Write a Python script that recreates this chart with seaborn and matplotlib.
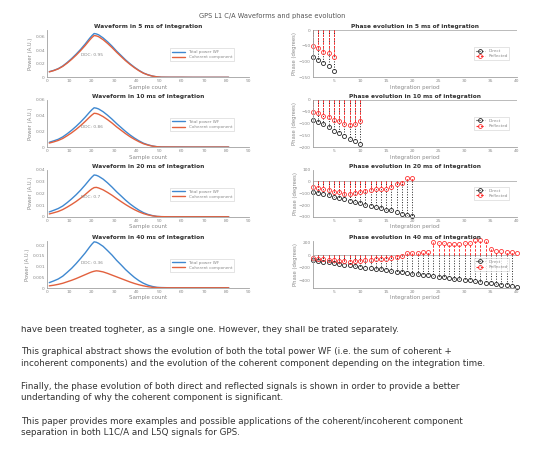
import numpy as np
import pandas as pd
import matplotlib
matplotlib.use("Agg")
import matplotlib.pyplot as plt
import seaborn as sns
from matplotlib.lines import Line2D
from matplotlib.ticker import FuncFormatter

# waveform sample positions (shared by all waveforms)
sample_x = [1, 3, 5, 7, 9, 11, 13, 15, 17, 19, 20, 21, 22, 23, 25, 27, 29, 31, 33, 35,
            37, 39, 41, 43, 45, 47, 49, 51, 55, 60, 65, 70, 75, 81]

total_5 = [0.0085, 0.0104, 0.013, 0.0169, 0.0221, 0.028, 0.0345, 0.0416, 0.0494, 0.0579,
           0.0618, 0.065, 0.0644, 0.0631, 0.0585, 0.0527, 0.0462, 0.039, 0.0325, 0.026,
           0.0202, 0.015, 0.0104, 0.0065, 0.0039, 0.002, 0.0008, 0.0003, 0.0002, 0.0002,
           0.0001, 0.0001, 0.0001, 0.0001]
coh_5 = [0.0082, 0.0101, 0.0126, 0.0163, 0.0212, 0.0268, 0.033, 0.0398, 0.0472, 0.0553,
         0.059, 0.062, 0.0615, 0.0603, 0.0559, 0.0503, 0.0441, 0.0373, 0.031, 0.0248,
         0.0193, 0.0143, 0.0099, 0.0062, 0.0037, 0.0019, 0.0008, 0.0003, 0.0002, 0.0002,
         0.0001, 0.0001, 0.0001, 0.0001]

total_10 = [0.0062, 0.008, 0.010, 0.013, 0.017, 0.0215, 0.0265, 0.032, 0.038, 0.0445,
            0.0475, 0.050, 0.0495, 0.0485, 0.045, 0.0405, 0.0355, 0.030, 0.025, 0.020,
            0.0155, 0.0115, 0.008, 0.005, 0.003, 0.0015, 0.0006, 0.0003, 0.0002, 0.0002,
            0.0001, 0.0001, 0.0001, 0.0001]
coh_10 = [0.0052, 0.0067, 0.0085, 0.011, 0.0145, 0.0183, 0.0226, 0.0274, 0.0326, 0.0382,
          0.0408, 0.043, 0.0427, 0.0418, 0.0388, 0.0349, 0.0306, 0.0258, 0.0215, 0.0172,
          0.0133, 0.0099, 0.0069, 0.0043, 0.0026, 0.0013, 0.0005, 0.0002, 0.0002, 0.0001,
          0.0001, 0.0001, 0.0001, 0.0001]

total_20 = [0.0042, 0.0056, 0.0071, 0.0092, 0.0121, 0.0153, 0.0188, 0.0227, 0.027, 0.0316,
            0.0337, 0.0355, 0.0352, 0.0344, 0.032, 0.0288, 0.0252, 0.0213, 0.0178, 0.0142,
            0.011, 0.0082, 0.0057, 0.0036, 0.0021, 0.0011, 0.0004, 0.0002, 0.0001, 0.0001,
            0.0001, 0.0001, 0.0001, 0.0001]
coh_20 = [0.0025, 0.0035, 0.0046, 0.0062, 0.0083, 0.0106, 0.0131, 0.0159, 0.0189, 0.0222,
          0.0237, 0.0248, 0.025, 0.0245, 0.0229, 0.0207, 0.0183, 0.0156, 0.013, 0.0105,
          0.0082, 0.0061, 0.0043, 0.0028, 0.0017, 0.0009, 0.0004, 0.0002, 0.0001, 0.0001,
          0.0001, 0.0001, 0.0001, 0.0001]

total_40 = [0.0025, 0.0033, 0.0042, 0.0055, 0.0073, 0.0092, 0.0114, 0.0138, 0.0163, 0.0191,
            0.0204, 0.0215, 0.0213, 0.0208, 0.0194, 0.0174, 0.0153, 0.0129, 0.0108, 0.0086,
            0.0067, 0.0049, 0.0034, 0.0022, 0.0013, 0.0007, 0.0003, 0.0002, 0.0001, 0.0001,
            0.0001, 0.0001, 0.0001, 0.0001]
coh_40 = [0.001, 0.0013, 0.0017, 0.0022, 0.0029, 0.0036, 0.0044, 0.0053, 0.0062, 0.0071,
          0.0075, 0.0078, 0.008, 0.0079, 0.0075, 0.0068, 0.006, 0.0052, 0.0044, 0.0036,
          0.0028, 0.0021, 0.0015, 0.001, 0.0006, 0.0003, 0.0002, 0.0001, 0.0001, 0.0001,
          0.0001, 0.0001, 0.0001, 0.0001]

ddc_values = ["0.95", "0.86", "0.7", "0.36"]
integration_ms = [5, 10, 20, 40]

# phase per integration period (degrees), 40 periods
phase_direct = [-85, -95, -103, -115, -130, -140, -152, -165, -172, -185,
                -198, -205, -215, -225, -240, -245, -260, -275, -283, -295,
                -300, -310, -318, -325, -340, -350, -362, -375, -385, -392,
                -400, -410, -420, -435, -448, -460, -470, -480, -490, -510]
phase_reflected = [-50, -57, -68, -72, -85, -90, -102, -105, -100, -88,
                   -78, -75, -68, -68, -60, -48, -25, -15, 30, 30,
                   38, 50, 45, 200, 190, 185, 180, 175, 175, 185,
                   190, 235, 230, 215, 100, 65, 65, 55, 40, 35]

body_lines = [
    "have been treated togheter, as a single one. However, they shall be trated separately.",
    "",
    "This graphical abstract shows the evolution of both the total power WF (i.e. the sum of coherent +",
    "incoherent components) and the evolution of the coherent component depending on the integration time.",
    "",
    "Finally, the phase evolution of both direct and reflected signals is shown in order to provide a better",
    "undertanding of why the coherent component is significant.",
    "",
    "This paper provides more examples and possible applications of the coherent/incoherent component",
    "separation in both L1C/A and L5Q signals for GPS.",
]

wave_total = [total_5, total_10, total_20, total_40]
wave_coh = [coh_5, coh_10, coh_20, coh_40]
wave_ylim = [0.07, 0.06, 0.04, 0.022]
wave_yticks = [[0, 0.02, 0.04, 0.06], [0, 0.02, 0.04, 0.06],
               [0, 0.01, 0.02, 0.03, 0.04], [0, 0.005, 0.01, 0.015, 0.02]]
ddc_ypos = [0.48, 0.43, 0.43, 0.52]
phase_ylim = [(-150, 0), (-200, 0), (-300, 100), (-520, 225)]
phase_yticks = [[-150, -100, -50, 0], [-200, -150, -100, -50, 0],
                [-300, -200, -100, 0, 100], [-400, -200, 0, 200]]

sns.set_theme(style="white")
plt.rcParams["font.family"] = ["DejaVu Sans"]

blue = "#3f88d0"
orange = "#e2613e"
dark = "#222222"
red = "#ff3030"
gray_txt = "#8a8a8a"
spine_c = "#a0a0a0"

fig = plt.figure(figsize=(5.5, 4.5), dpi=100)
fig.patch.set_facecolor("white")

bottoms = [0.828, 0.673, 0.518, 0.36]
height = 0.105


def style_axes(ax):
    for s in ["top", "right"]:
        ax.spines[s].set_visible(False)
    for s in ["left", "bottom"]:
        ax.spines[s].set_color(spine_c)
        ax.spines[s].set_linewidth(0.6)
    ax.tick_params(direction="in", length=1.5, width=0.5, colors=spine_c,
                   labelsize=3.2, labelcolor=gray_txt, pad=1.5)
    ax.set_facecolor("white")


def style_legend(leg):
    leg.get_frame().set_edgecolor("#cfcfcf")
    leg.get_frame().set_linewidth(0.5)
    for t in leg.get_texts():
        t.set_color(gray_txt)


fmt = FuncFormatter(lambda v, p: "0" if v == 0 else "%g" % v)

phase_handles = [
    Line2D([], [], color=dark, linestyle=":", linewidth=0.8, marker="o",
           markerfacecolor="none", markersize=2.8, markeredgewidth=0.6),
    Line2D([], [], color=red, linestyle=(0, (2.5, 1.5)), linewidth=0.8, marker="o",
           markerfacecolor="none", markersize=2.8, markeredgewidth=0.6),
]

for i in range(4):
    # waveform panel
    ax = fig.add_axes([0.0855, bottoms[i], 0.367, height])
    df = pd.DataFrame({"x": sample_x, "Total power WF": wave_total[i],
                       "Coherent component": wave_coh[i]})
    long = df.melt(id_vars="x", var_name="series", value_name="power")
    sns.lineplot(data=long, x="x", y="power", hue="series",
                 palette={"Total power WF": blue, "Coherent component": orange},
                 linewidth=1.0, ax=ax)
    ax.set_xlim(0, 90)
    ax.set_ylim(0, wave_ylim[i])
    ax.set_xticks(range(0, 91, 10))
    ax.set_yticks(wave_yticks[i])
    ax.yaxis.set_major_formatter(fmt)
    style_axes(ax)
    ax.set_xlabel("Sample count", fontsize=4, color=gray_txt, labelpad=1)
    ax.set_ylabel("Power (A.U.)", fontsize=3.8, color=gray_txt, labelpad=1.5)
    ax.set_title("Waveform in %d ms of integration" % integration_ms[i],
                 fontsize=4.2, fontweight="bold", color="#303030", pad=1.5)
    ax.text(15, ddc_ypos[i] * wave_ylim[i], "DDC: " + ddc_values[i],
            fontsize=3.2, color=gray_txt, va="center")
    leg = ax.legend(loc="center left", bbox_to_anchor=(0.6, 0.48), fontsize=3,
                    frameon=True, handlelength=3.2, borderpad=0.4,
                    labelspacing=0.3, fancybox=False)
    style_legend(leg)

    # phase panel
    n = integration_ms[i]
    periods = np.arange(1, n + 1)
    ax2 = fig.add_axes([0.569, bottoms[i], 0.371, height])
    ax2.axhline(0, color="#b0b0b0", linewidth=0.6, zorder=1)
    ml, sl, bl = ax2.stem(periods, phase_direct[:n], linefmt=":", markerfmt="o",
                          basefmt=" ")
    plt.setp(ml, markerfacecolor="none", markeredgecolor=dark, linestyle="none",
             markersize=2.9, markeredgewidth=0.6, clip_on=False)
    plt.setp(sl, linewidth=0.7, color=dark)
    ml2, sl2, bl2 = ax2.stem(periods, phase_reflected[:n], linefmt="--",
                             markerfmt="o", basefmt=" ")
    plt.setp(ml2, markerfacecolor="none", markeredgecolor=red, linestyle="none",
             markersize=2.9, markeredgewidth=0.6, clip_on=False)
    plt.setp(sl2, linewidth=0.7, color=red, linestyle=(0, (2.5, 1.5)))
    ax2.set_xlim(1, 40)
    ax2.set_ylim(*phase_ylim[i])
    ax2.set_xticks(range(5, 41, 5))
    ax2.set_yticks(phase_yticks[i])
    style_axes(ax2)
    ax2.set_xlabel("Integration period", fontsize=4, color=gray_txt, labelpad=1)
    ax2.set_ylabel("Phase (degrees)", fontsize=3.8, color=gray_txt, labelpad=1)
    ax2.set_title("Phase evolution in %d ms of integration" % n,
                  fontsize=4.2, fontweight="bold", color="#303030", pad=1.5)
    leg2 = ax2.legend(phase_handles, ["Direct", "Reflected"], loc="center left",
                      bbox_to_anchor=(0.78, 0.5), fontsize=3, frameon=True,
                      handlelength=2.2, borderpad=0.4, labelspacing=0.3,
                      fancybox=False, numpoints=1)
    style_legend(leg2)

fig.text(0.495, 0.965, "GPS L1 C/A Waveforms and phase evolution",
         fontsize=4.8, color="#555555", ha="center", va="center")

# abstract text below the figure
y0 = 1 - 329 / 450
for k, line in enumerate(body_lines):
    if line:
        fig.text(0.038, y0 - k * 11.5 / 450, line, fontsize=6.3, color="#333333",
                 va="center", ha="left")

# the top of the first text line is hidden behind the figure in the reference
fig.patches.append(plt.Rectangle((0, 1 - 326 / 450), 1, 0.02,
                                 transform=fig.transFigure, facecolor="white",
                                 edgecolor="none", zorder=10))

fig.savefig("out.png", dpi=100, facecolor="white")
